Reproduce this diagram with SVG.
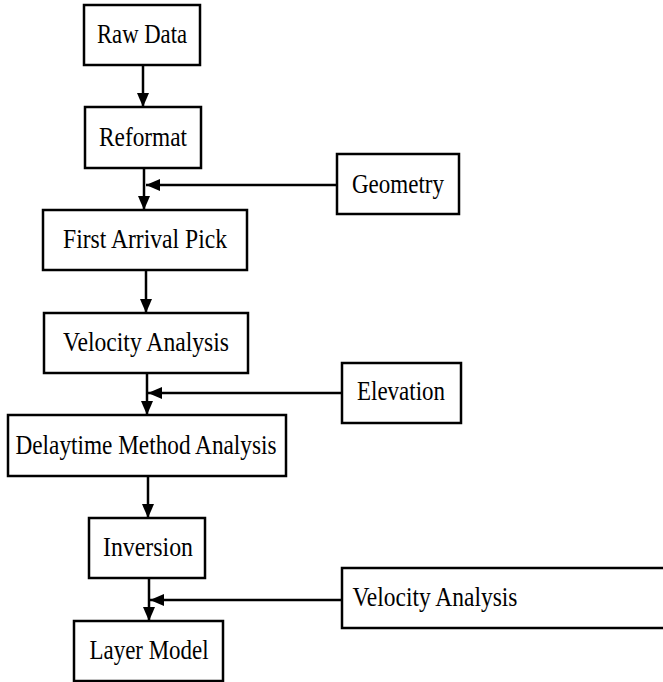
<svg xmlns="http://www.w3.org/2000/svg" width="663" height="682" viewBox="0 0 663 682">
<style>
.b{fill:#fff;stroke:#000;stroke-width:2.5}
text{font-family:"Liberation Serif","Times New Roman",serif;font-size:27px;fill:#000;text-anchor:middle}
.c{stroke:#000;stroke-width:2.5;fill:none}
</style>
<defs>
<marker id="ah" markerUnits="userSpaceOnUse" markerWidth="14" markerHeight="12" viewBox="0 0 14 12" refX="14" refY="6" orient="auto">
<path d="M0,0 L14,6 L0,12 Z" fill="#000"/>
</marker>
</defs>
<rect width="663" height="682" fill="#fff"/>
<g id="connectors">
<line class="c" x1="143" y1="65" x2="143" y2="107" marker-end="url(#ah)"/>
<line class="c" x1="144" y1="168" x2="144" y2="210" marker-end="url(#ah)"/>
<line class="c" x1="337" y1="185" x2="146" y2="185" marker-end="url(#ah)"/>
<line class="c" x1="146" y1="270" x2="146" y2="313" marker-end="url(#ah)"/>
<line class="c" x1="147" y1="373" x2="147" y2="415" marker-end="url(#ah)"/>
<line class="c" x1="342" y1="393" x2="148" y2="393" marker-end="url(#ah)"/>
<line class="c" x1="148" y1="476" x2="148" y2="518" marker-end="url(#ah)"/>
<line class="c" x1="149" y1="578" x2="149" y2="621" marker-end="url(#ah)"/>
<line class="c" x1="342" y1="600" x2="150" y2="600" marker-end="url(#ah)"/>
</g>
<g id="raw-data"><rect class="b" x="84" y="5" width="116" height="60"/><text x="142" y="43" textLength="90" lengthAdjust="spacingAndGlyphs">Raw Data</text></g>
<g id="reformat"><rect class="b" x="85" y="107" width="116" height="61"/><text x="143" y="146" textLength="88" lengthAdjust="spacingAndGlyphs">Reformat</text></g>
<g id="geometry"><rect class="b" x="337" y="154" width="122" height="60"/><text x="398" y="193" textLength="92" lengthAdjust="spacingAndGlyphs">Geometry</text></g>
<g id="first-arrival-pick"><rect class="b" x="43" y="210" width="204" height="60"/><text x="145" y="248" textLength="164" lengthAdjust="spacingAndGlyphs">First Arrival Pick</text></g>
<g id="velocity-analysis"><rect class="b" x="44" y="313" width="204" height="60"/><text x="146" y="351" textLength="166" lengthAdjust="spacingAndGlyphs">Velocity Analysis</text></g>
<g id="elevation"><rect class="b" x="342" y="363" width="119" height="60"/><text x="401" y="400" textLength="88" lengthAdjust="spacingAndGlyphs">Elevation</text></g>
<g id="delaytime"><rect class="b" x="8" y="415" width="278" height="61"/><text x="146" y="454" textLength="261" lengthAdjust="spacingAndGlyphs">Delaytime Method Analysis</text></g>
<g id="inversion"><rect class="b" x="89" y="518" width="116" height="60"/><text x="148" y="556" textLength="90" lengthAdjust="spacingAndGlyphs">Inversion</text></g>
<g id="velocity-analysis-2"><rect class="b" x="342" y="568" width="330" height="60"/><text x="435" y="606" textLength="165" lengthAdjust="spacingAndGlyphs">Velocity Analysis</text></g>
<g id="layer-model"><rect class="b" x="74" y="621" width="149" height="60"/><text x="149" y="659" textLength="119" lengthAdjust="spacingAndGlyphs">Layer Model</text></g>
</svg>
